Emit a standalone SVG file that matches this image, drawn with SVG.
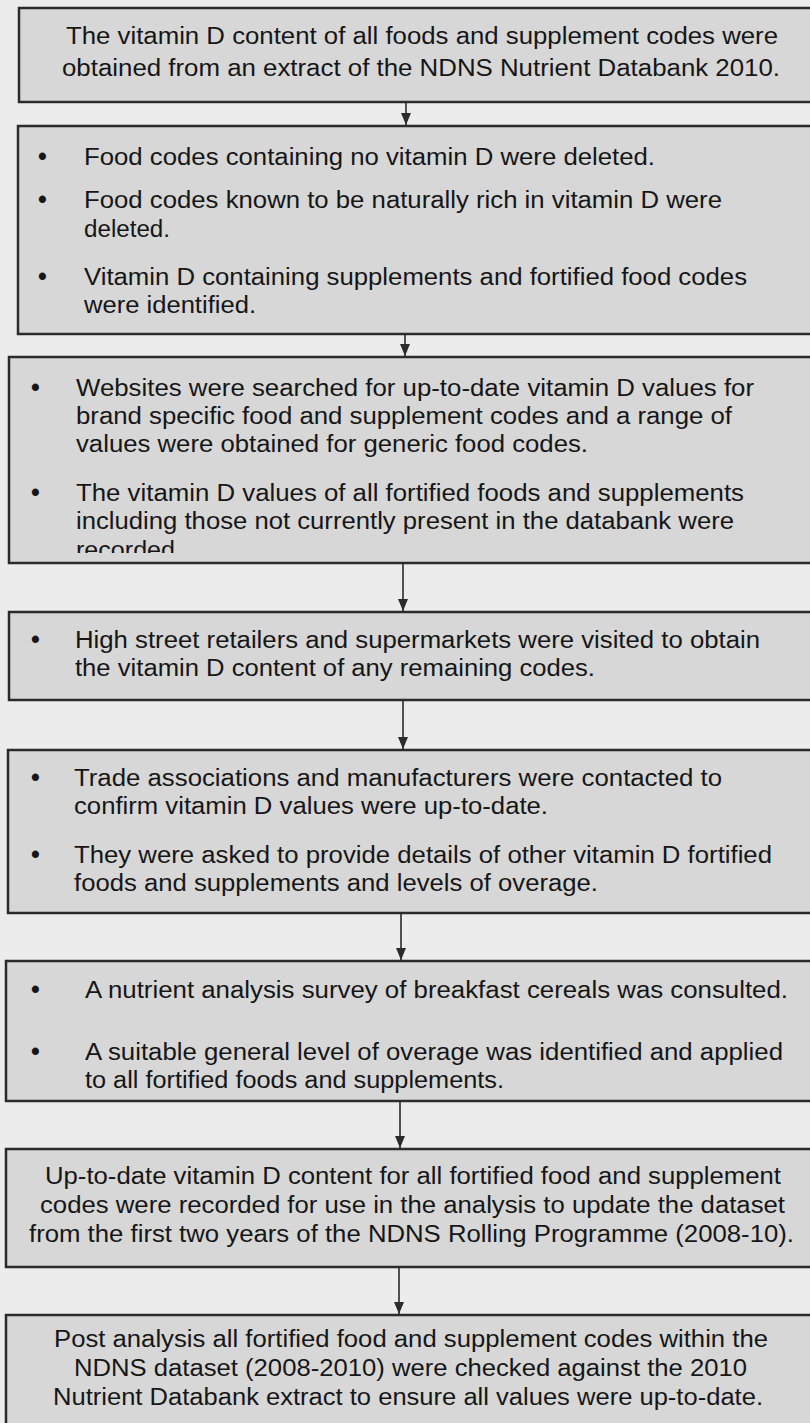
<svg xmlns="http://www.w3.org/2000/svg" width="810" height="1423" viewBox="0 0 810 1423">
<style>
.bg{fill:#ececec}
.box{fill:#d7d7d7;stroke:#2b2b2b;stroke-width:2.5}
.t{font-family:"Liberation Sans",Arial,sans-serif;font-size:23.5px;fill:#161616}
.b{font-family:"Liberation Sans",Arial,sans-serif;font-size:25px;fill:#161616;font-weight:bold}
.conn{stroke:#2b2b2b;stroke-width:1.6;fill:none}
</style>
<defs>
<marker id="ah" markerUnits="userSpaceOnUse" viewBox="0 0 12 10" markerWidth="12" markerHeight="10" refX="12" refY="5" orient="auto">
<path d="M0,0 L12,5 L0,10 z" fill="#2b2b2b"/>
</marker>
<clipPath id="c3"><rect x="0" y="357" width="810" height="196"/></clipPath>
</defs>
<rect class="bg" x="0" y="0" width="810" height="1423"/>

<g id="connectors">
<line class="conn" x1="406" y1="102" x2="406" y2="125" marker-end="url(#ah)"/>
<line class="conn" x1="405" y1="334" x2="405" y2="356" marker-end="url(#ah)"/>
<line class="conn" x1="403" y1="563" x2="403" y2="611" marker-end="url(#ah)"/>
<line class="conn" x1="403" y1="700" x2="403" y2="749" marker-end="url(#ah)"/>
<line class="conn" x1="401" y1="913" x2="401" y2="960" marker-end="url(#ah)"/>
<line class="conn" x1="400" y1="1101" x2="400" y2="1148" marker-end="url(#ah)"/>
<line class="conn" x1="399" y1="1267" x2="399" y2="1314" marker-end="url(#ah)"/>
</g>

<g id="node1">
<rect class="box" x="19" y="8" width="800" height="94"/>
<text class="t" x="66" y="44" textLength="712" lengthAdjust="spacingAndGlyphs">The vitamin D content of all foods and supplement codes were</text>
<text class="t" x="62" y="76" textLength="718" lengthAdjust="spacingAndGlyphs">obtained from an extract of the NDNS Nutrient Databank 2010.</text>
</g>

<g id="node2">
<rect class="box" x="18" y="126" width="800" height="208"/>
<text class="b" x="38" y="165">•</text>
<text class="t" x="84" y="165" textLength="571" lengthAdjust="spacingAndGlyphs">Food codes containing no vitamin D were deleted.</text>
<text class="b" x="38" y="208">•</text>
<text class="t" x="84" y="208" textLength="638" lengthAdjust="spacingAndGlyphs">Food codes known to be naturally rich in vitamin D were</text>
<text class="t" x="84" y="237" textLength="86" lengthAdjust="spacingAndGlyphs">deleted.</text>
<text class="b" x="38" y="285">•</text>
<text class="t" x="84" y="285" textLength="663" lengthAdjust="spacingAndGlyphs">Vitamin D containing supplements and fortified food codes</text>
<text class="t" x="84" y="313" textLength="172" lengthAdjust="spacingAndGlyphs">were identified.</text>
</g>

<g id="node3">
<rect class="box" x="9" y="357" width="810" height="206"/>
<text class="b" x="31" y="396">•</text>
<text class="t" x="76" y="396" textLength="678" lengthAdjust="spacingAndGlyphs">Websites were searched for up-to-date vitamin D values for</text>
<text class="t" x="76" y="424" textLength="656" lengthAdjust="spacingAndGlyphs">brand specific food and supplement codes and a range of</text>
<text class="t" x="76" y="452" textLength="512" lengthAdjust="spacingAndGlyphs">values were obtained for generic food codes.</text>
<text class="b" x="31" y="501">•</text>
<text class="t" x="76" y="501" textLength="668" lengthAdjust="spacingAndGlyphs">The vitamin D values of all fortified foods and supplements</text>
<text class="t" x="76" y="529" textLength="658" lengthAdjust="spacingAndGlyphs">including those not currently present in the databank were</text>
<text class="t" x="76" y="558" textLength="99" lengthAdjust="spacingAndGlyphs" clip-path="url(#c3)">recorded</text>
</g>

<g id="node4">
<rect class="box" x="9" y="612" width="810" height="88"/>
<text class="b" x="31" y="648">•</text>
<text class="t" x="75" y="648" textLength="685" lengthAdjust="spacingAndGlyphs">High street retailers and supermarkets were visited to obtain</text>
<text class="t" x="75" y="676" textLength="520" lengthAdjust="spacingAndGlyphs">the vitamin D content of any remaining codes.</text>
</g>

<g id="node5">
<rect class="box" x="8" y="750" width="810" height="163"/>
<text class="b" x="31" y="786">•</text>
<text class="t" x="74" y="786" textLength="648" lengthAdjust="spacingAndGlyphs">Trade associations and manufacturers were contacted to</text>
<text class="t" x="74" y="814" textLength="474" lengthAdjust="spacingAndGlyphs">confirm vitamin D values were up-to-date.</text>
<text class="b" x="31" y="863">•</text>
<text class="t" x="74" y="863" textLength="698" lengthAdjust="spacingAndGlyphs">They were asked to provide details of other vitamin D fortified</text>
<text class="t" x="74" y="891" textLength="524" lengthAdjust="spacingAndGlyphs">foods and supplements and levels of overage.</text>
</g>

<g id="node6">
<rect class="box" x="6" y="961" width="810" height="140"/>
<text class="b" x="31" y="998">•</text>
<text class="t" x="85" y="998" textLength="703" lengthAdjust="spacingAndGlyphs">A nutrient analysis survey of breakfast cereals was consulted.</text>
<text class="b" x="31" y="1060">•</text>
<text class="t" x="85" y="1060" textLength="698" lengthAdjust="spacingAndGlyphs">A suitable general level of overage was identified and applied</text>
<text class="t" x="85" y="1088" textLength="419" lengthAdjust="spacingAndGlyphs">to all fortified foods and supplements.</text>
</g>

<g id="node7">
<rect class="box" x="6" y="1149" width="810" height="118"/>
<text class="t" x="45" y="1184" textLength="736" lengthAdjust="spacingAndGlyphs">Up-to-date vitamin D content for all fortified food and supplement</text>
<text class="t" x="40" y="1213" textLength="745" lengthAdjust="spacingAndGlyphs">codes were recorded for use in the analysis to update the dataset</text>
<text class="t" x="29" y="1242" textLength="765" lengthAdjust="spacingAndGlyphs">from the first two years of the NDNS Rolling Programme (2008-10).</text>
</g>

<g id="node8">
<rect class="box" x="6" y="1315" width="810" height="120"/>
<text class="t" x="54" y="1347" textLength="714" lengthAdjust="spacingAndGlyphs">Post analysis all fortified food and supplement codes within the</text>
<text class="t" x="74" y="1376" textLength="673" lengthAdjust="spacingAndGlyphs">NDNS dataset (2008-2010) were checked against the 2010</text>
<text class="t" x="53" y="1405" textLength="710" lengthAdjust="spacingAndGlyphs">Nutrient Databank extract to ensure all values were up-to-date.</text>
</g>
</svg>
